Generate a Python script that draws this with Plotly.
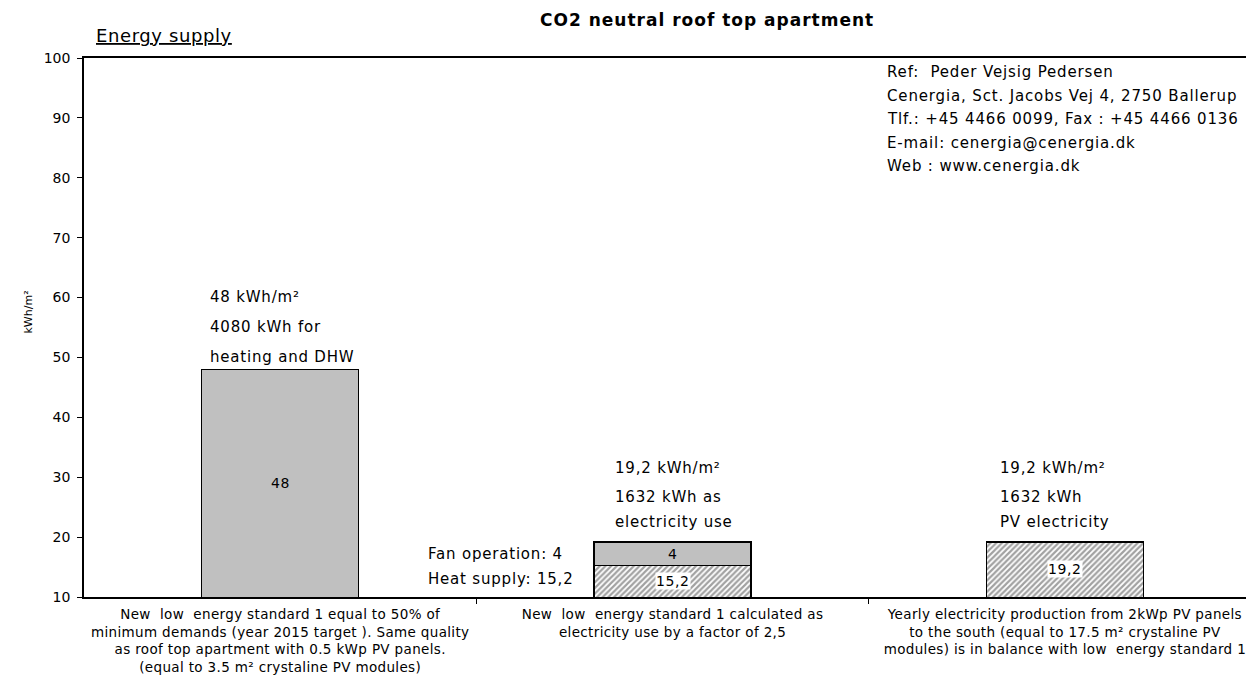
import plotly.graph_objects as go

# ---------------------------------------------------------------
# data
# ---------------------------------------------------------------
categories = [
    ["New  low  energy standard 1 equal to 50% of",
     "minimum demands (year 2015 target ). Same quality",
     "as roof top apartment with 0.5 kWp PV panels.",
     "(equal to 3.5 m² crystaline PV modules)"],
    ["New  low  energy standard 1 calculated as",
     "electricity use by a factor of 2,5"],
    ["Yearly electricity production from 2kWp PV panels",
     "to the south (equal to 17.5 m² crystaline PV",
     "modules) is in balance with low  energy standard 1"],
]
base_values = [48, 15.2, 19.2]          # heating / heat supply / PV electricity
base_hatched = [False, True, True]
fan_values = [None, 4, None]            # fan operation (electricity)

bar_notes = [
    ["48 kWh/m²", "4080 kWh for", "heating and DHW"],
    ["19,2 kWh/m²", "1632 kWh as", "electricity use"],
    ["19,2 kWh/m²", "1632 kWh", "PV electricity"],
]
side_notes = ["Fan operation: 4", "Heat supply: 15,2"]
ref_lines = [
    "Ref:  Peder Vejsig Pedersen",
    "Cenergia, Sct. Jacobs Vej 4, 2750 Ballerup",
    "Tlf.: +45 4466 0099, Fax : +45 4466 0136",
    "E-mail: cenergia@cenergia.dk",
    "Web : www.cenergia.dk",
]

y_min, y_max = 10, 100
GRAY = "#c0c0c0"
FONT = "DejaVu Sans, Liberation Sans, Arial, sans-serif"

# page body has an 8px margin -> the figure is drawn offset by 8px
OFF = 8
PL, PT, PB = 84, 58, 597      # plot area in window pixels
PW = 1254 - PL
PH = PB - PT
note_xshift = [6, 19, 12]      # indent of the notes above each bar
note_gap = [[72, 42, 12], [74, 45, 20], [74, 45, 20]]


def fmt(v):
    return f"{v:g}".replace(".", ",")


def wide(s, ls):
    return f'<span style="letter-spacing:{ls}px">{s}</span>'


def px_x(px):
    return (px - PL) / PW


def px_y(py):
    return (PB - py) / PH


x = list(range(len(categories)))

fig = go.Figure()

fig.add_trace(go.Bar(
    x=x,
    y=base_values,
    width=0.4,
    marker=dict(
        color=["white" if h else GRAY for h in base_hatched],
        line=dict(color="black", width=1.2),
        pattern=dict(
            shape=["/" if h else "" for h in base_hatched],
            fgcolor="black",
            bgcolor="white",
            size=4,
            solidity=0.55,
        ),
    ),
    hoverinfo="skip",
))

fig.add_trace(go.Bar(
    x=x,
    y=fan_values,
    width=0.4,
    marker=dict(color=GRAY, line=dict(color="black", width=1.2)),
    hoverinfo="skip",
))

# value labels inside the bars
for i, v in enumerate(base_values):
    fig.add_annotation(
        x=i, y=(y_min + v) / 2, text=wide(fmt(v), 0.6), showarrow=False,
        font=dict(size=14, color="black"),
        bgcolor="white" if base_hatched[i] else None,
        borderpad=0,
    )
    if fan_values[i] is not None:
        fig.add_annotation(
            x=i, y=v + fan_values[i] / 2, text=wide(fmt(fan_values[i]), 0.6),
            showarrow=False, font=dict(size=14, color="black"),
        )

# notes above bars
for i, lines in enumerate(bar_notes):
    top = base_values[i] + (fan_values[i] or 0)
    for k, line in enumerate(lines):
        fig.add_annotation(
            x=i - 0.2, y=top, xanchor="left", yanchor="middle",
            xshift=note_xshift[i], yshift=note_gap[i][k],
            text=wide(line, 0.8), showarrow=False,
            font=dict(size=15, color="black"),
        )

# side notes left of the stacked bar
fig.add_annotation(
    x=1 - 0.2, y=base_values[1] + fan_values[1] / 2, xanchor="left",
    xshift=-168, text=wide(side_notes[0], 0.8), showarrow=False,
    font=dict(size=15, color="black"),
)
fig.add_annotation(
    x=1 - 0.2, y=(y_min + base_values[1]) / 2, xanchor="left",
    xshift=-168, yshift=2, text=wide(side_notes[1], 0.8), showarrow=False,
    font=dict(size=15, color="black"),
)

# reference block
for k, line in enumerate(ref_lines):
    fig.add_annotation(
        xref="paper", yref="paper",
        x=px_x(885), y=px_y(72 + 23.5 * k),
        xanchor="left", yanchor="middle", text=wide(line, 0.85),
        showarrow=False, font=dict(size=15, color="black"),
    )

# titles
fig.add_annotation(
    xref="paper", yref="paper", x=px_x(707), y=px_y(20),
    text="<b>" + wide("CO2 neutral roof top apartment", 1) + "</b>",
    showarrow=False, font=dict(size=17, color="black"), yanchor="middle",
)
fig.add_annotation(
    xref="paper", yref="paper", x=px_x(94), y=px_y(35),
    xanchor="left", yanchor="middle",
    text="<u>" + wide("Energy supply", 0.6) + "</u>", showarrow=False,
    font=dict(size=18, color="black"),
)
fig.add_annotation(
    xref="paper", yref="paper", x=px_x(19), y=px_y(312),
    textangle=-90, text="kWh/m²", showarrow=False,
    font=dict(size=11, color="black"),
)

fig.update_layout(
    width=1254 - OFF,
    height=692 - OFF,
    barmode="stack",
    showlegend=False,
    plot_bgcolor="white",
    paper_bgcolor="white",
    font=dict(family=FONT, color="black"),
    margin=dict(l=PL - OFF, r=0, t=PT - OFF, b=692 - PB, autoexpand=False),
)

fig.update_xaxes(
    type="linear",
    range=[-0.5, 2.482],
    tickmode="array",
    tickvals=x,
    ticktext=["<br>".join(wide(s, 0.35) for s in c) for c in categories],
    ticks="",
    ticklabelstandoff=4,
    showline=True,
    linecolor="black",
    linewidth=1.5,
    mirror=True,
    showgrid=False,
    zeroline=False,
    tickfont=dict(size=13.5, color="black"),
    minor=dict(
        tickmode="array",
        tickvals=[0.5, 1.5],
        ticks="outside",
        ticklen=5,
        tickcolor="black",
        showgrid=False,
    ),
)

fig.update_yaxes(
    range=[y_min, y_max],
    dtick=10,
    ticks="outside",
    ticklen=5,
    tickcolor="black",
    ticklabelstandoff=4,
    showline=True,
    linecolor="black",
    linewidth=1.5,
    showgrid=False,
    zeroline=False,
    tickfont=dict(size=14, color="black"),
)

fig.write_html("out.html")
